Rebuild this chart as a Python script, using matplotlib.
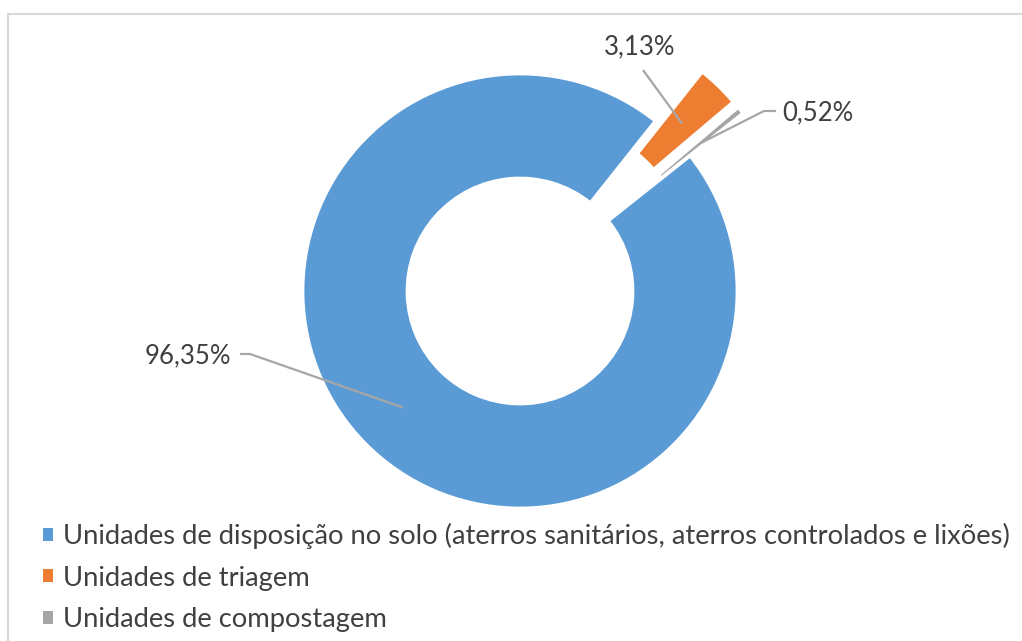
import numpy as np
from matplotlib import pyplot as plt

# Dados
categorias = ['Unidades de disposição no solo (aterros sanitários, aterros controlados e lixões)',
              'Unidades de triagem',
              'Unidades de compostagem']
percentuais = [96.35, 3.13, 0.52]
cores = ['#5B9BD5', '#ED7D31', '#A5A5A5']

W, H = 1022, 641
CENTRO = (520, 291)          # pixels, origem no topo
RAIO = 217
LARGURA = 104
EXPLOSAO = [0, 68, 68]
INICIO = 38.4

# posição dos rótulos: (ponto de dobra, ponto final da linha, texto, alinhamento)
ROTULOS = [
    ((250, 354), (240, 354), (231, 356), 'right'),
    ((643, 70), (643, 70), (640, 47), 'center'),
    ((764, 111), (776, 111), (782, 113), 'left'),
]

TEXTO = '#404040'
LINHA = '#A6A6A6'
FONTE = 'Lato'


def py(y):
    return H - y


def main():
    fig = plt.figure(figsize=(W / 100, H / 100), dpi=100)
    ax = fig.add_axes([0, 0, 1, 1])

    wedges, _ = ax.pie(percentuais, colors=cores, radius=RAIO, center=(CENTRO[0], py(CENTRO[1])),
                       startangle=INICIO, counterclock=False, explode=EXPLOSAO,
                       wedgeprops=dict(width=LARGURA, linewidth=2, edgecolor='white'))
    ax.set_xlim(0, W)
    ax.set_ylim(0, H)
    ax.set_aspect('auto')
    ax.axis('off')

    # rótulos com linhas de chamada
    for w, v, (dobra, fim, pos, ha) in zip(wedges, percentuais, ROTULOS):
        ang = np.deg2rad((w.theta1 + w.theta2) / 2)
        r_meio = w.r - w.width / 2
        x0 = w.center[0] + r_meio * np.cos(ang)
        y0 = w.center[1] + r_meio * np.sin(ang)
        ax.plot([x0, dobra[0], fim[0]], [y0, py(dobra[1]), py(fim[1])],
                color=LINHA, lw=1.6, solid_capstyle='butt')
        ax.text(pos[0], py(pos[1]), f'{v:.2f}'.replace('.', ',') + '%', ha=ha, va='center',
                fontsize=18.5, color=TEXTO, family=FONTE)

    # moldura
    ax.plot([8, W], [py(14), py(14)], color='#D9D9D9', lw=1.5)
    ax.plot([8, 8], [py(14), 0], color='#D9D9D9', lw=1.5)

    leg = fig.legend(wedges, categorias, loc='upper left', bbox_to_anchor=(43 / W, 1 - 523 / H),
                     frameon=False, borderaxespad=0, borderpad=0, handlelength=0.35, handleheight=0.35,
                     handletextpad=0.38, labelspacing=0.6, prop=dict(family=FONTE, size=19.7))
    for t, h in zip(leg.get_texts(), leg.legend_handles):
        t.set_color(TEXTO)
        h.set_edgecolor('none')

    fig.savefig('out.png', dpi=100)


if __name__ == '__main__':
    main()
